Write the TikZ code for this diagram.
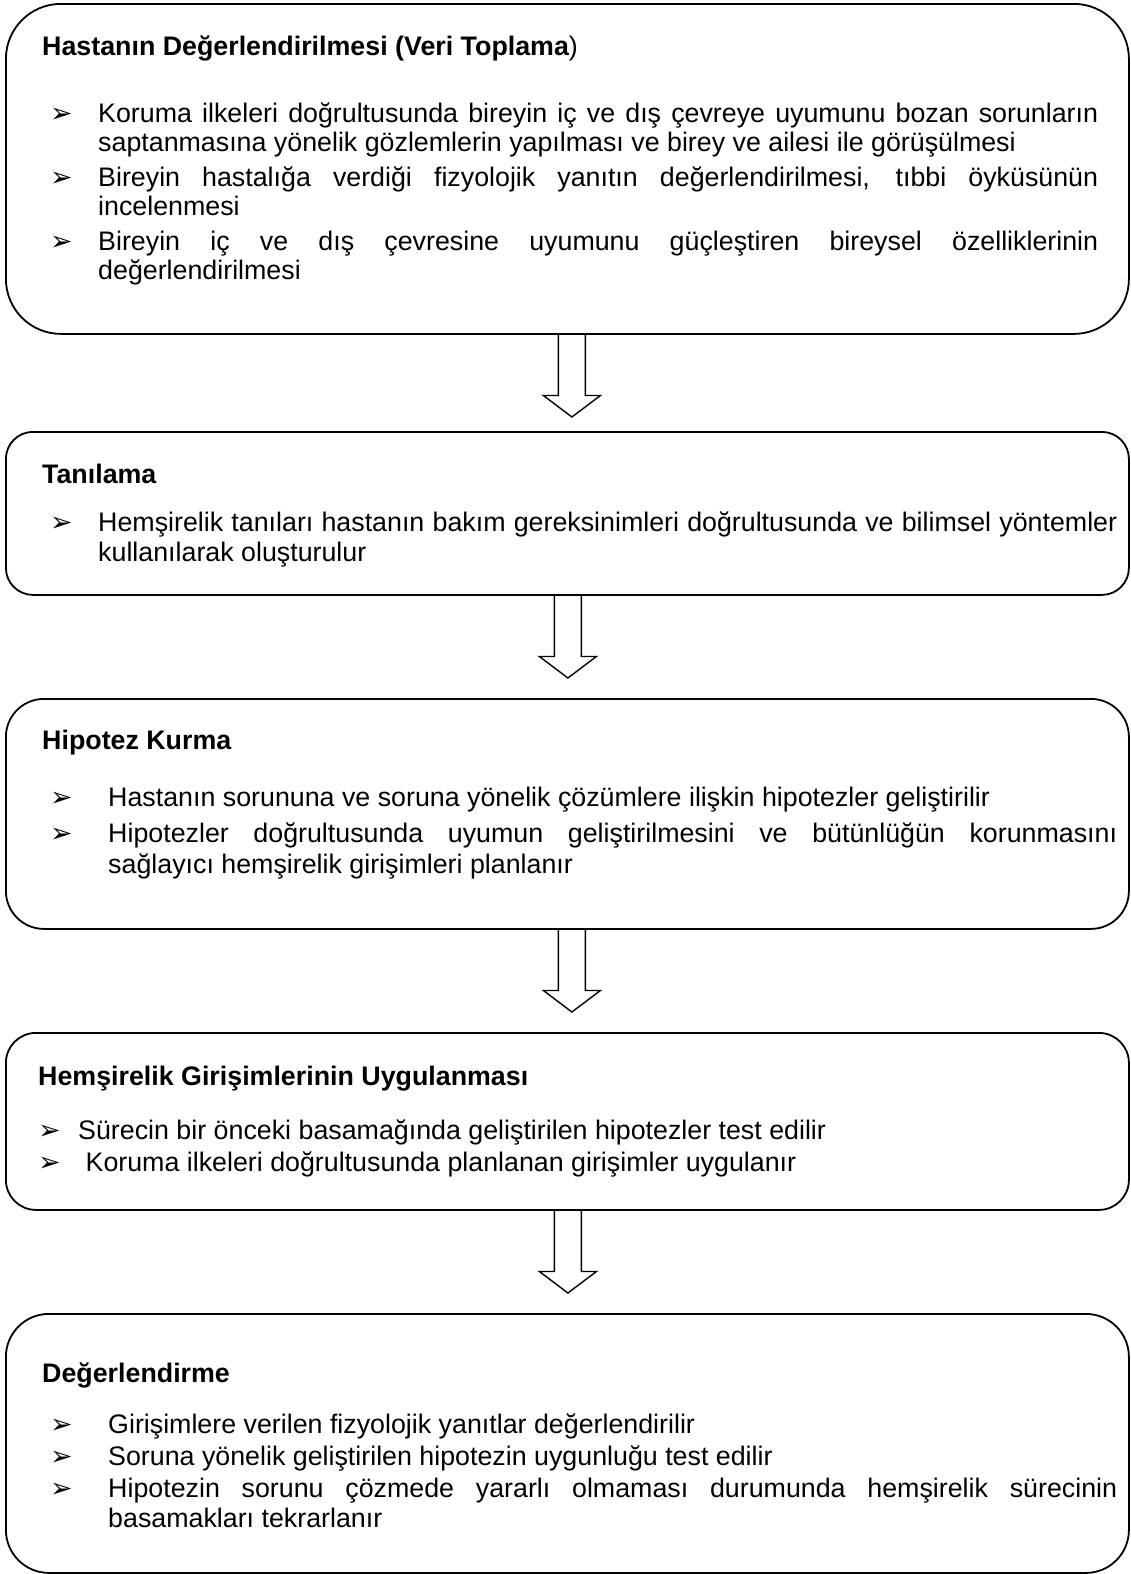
\documentclass[tikz,border=0pt]{standalone}
\usepackage{fontspec}
\setmainfont{Liberation Sans}
\newfontfamily\bulletfont{DejaVu Sans}
\usetikzlibrary{calc}
\newcommand\fs{26.8}
\newcommand\rs{\spaceskip=0pt\relax\xspaceskip=0pt\relax}
\newcommand\fline[2]{{\rs\makebox[#1pt][s]{#2}}}
\newcommand\flowarrow[4]{% from, to, dx, gap
  \draw[blockarr] let \p1=(#1.south), \p2=(#2.north) in
   (\x1+#3pt-13.5pt,\y1) -- (\x1+#3pt-13.5pt,\y2+#4pt+21.5pt)
   -- (\x1+#3pt-28.5pt,\y2+#4pt+21.5pt) -- (\x1+#3pt,\y2+#4pt)
   -- (\x1+#3pt+28.5pt,\y2+#4pt+21.5pt) -- (\x1+#3pt+13.5pt,\y2+#4pt+21.5pt)
   -- (\x1+#3pt+13.5pt,\y1);}
\begin{document}
\begin{tikzpicture}[x=1pt,y=-1pt]
\tikzset{
 box/.style={draw=black, line width=1.8pt, minimum width=1123pt, anchor=north west, inner sep=0pt},
 ttl/.style={anchor=base west, inner sep=0pt, font=\fontsize{\fs}{30}\selectfont\bfseries},
 itm/.style={anchor=base west, inner sep=0pt, align=left, font=\fontsize{\fs}{30}\selectfont},
 bulletmark/.style={anchor=base west, inner sep=0pt, font=\fontsize{27}{27}\selectfont\bulletfont},
 blockarr/.style={draw=black, line width=1.4pt, line join=miter},
}
\useasboundingbox (0,0) rectangle (1131,1574);

% Box 1
\node[box, minimum height=330pt, rounded corners=55pt] (b1) at (5,3) {};
\node[ttl] (t1) at (42,55) {Hastanın Değerlendirilmesi (Veri Toplama{\mdseries )}};
\node[bulletmark] (m11) at (50,122) {➢};
\node[itm, text width=1000pt] (i11) at (98,122) {\rs\fline{1000}{Koruma ilkeleri doğrultusunda bireyin iç ve dış çevreye uyumunu bozan sorunların}\\[-1pt]saptanmasına yönelik gözlemlerin yapılması ve birey ve ailesi ile görüşülmesi};
\node[bulletmark] (m12) at (50,186) {➢};
\node[itm, text width=1000pt] (i12) at (98,186) {\rs\fline{1000}{Bireyin hastalığa verdiği fizyolojik yanıtın değerlendirilmesi, tıbbi öyküsünün}\\[-1pt]incelenmesi};
\node[bulletmark] (m13) at (50,250) {➢};
\node[itm, text width=1000pt] (i13) at (98,250) {\rs\fline{1000}{Bireyin iç ve dış çevresine uyumunu güçleştiren bireysel özelliklerinin}\\[-1pt]değerlendirilmesi};

% Box 2
\node[box, minimum height=163pt, rounded corners=27pt] (b2) at (5,431) {};
\node[ttl] (t2) at (42,483) {Tanılama};
\node[bulletmark] (m21) at (50,531) {➢};
\node[itm, text width=1019pt] (i21) at (98,531) {\rs\fline{1019}{Hemşirelik tanıları hastanın bakım gereksinimleri doğrultusunda ve bilimsel yöntemler}\\kullanılarak oluşturulur};

% Box 3
\node[box, minimum height=230pt, rounded corners=38pt] (b3) at (5,698) {};
\node[ttl] (t3) at (42,749) {Hipotez Kurma};
\node[bulletmark] (m31) at (50,806) {➢};
\node[itm] (i31) at (108,806) {\rs Hastanın sorununa ve soruna yönelik çözümlere ilişkin hipotezler geliştirilir};
\node[bulletmark] (m32) at (50,842) {➢};
\node[itm, text width=1009pt] (i32) at (108,842) {\rs\fline{1009}{Hipotezler doğrultusunda uyumun geliştirilmesini ve bütünlüğün korunmasını}\\[1pt]sağlayıcı hemşirelik girişimleri planlanır};

% Box 4
\node[box, minimum height=177pt, rounded corners=30pt] (b4) at (5,1032) {};
\node[ttl] (t4) at (38,1085) {Hemşirelik Girişimlerinin Uygulanması};
\node[bulletmark] (m41) at (38,1139) {➢};
\node[itm] (i41) at (78,1139) {\rs Sürecin bir önceki basamağında geliştirilen hipotezler test edilir};
\node[bulletmark] (m42) at (38,1171) {➢};
\node[itm] (i42) at (78,1171) {\rs\ Koruma ilkeleri doğrultusunda planlanan girişimler uygulanır};

% Box 5
\node[box, minimum height=259pt, rounded corners=43pt] (b5) at (5,1313) {};
\node[ttl] (t5) at (42,1382) {Değerlendirme};
\node[bulletmark] (m51) at (50,1433) {➢};
\node[itm] (i51) at (108,1433) {\rs Girişimlere verilen fizyolojik yanıtlar değerlendirilir};
\node[bulletmark] (m52) at (50,1465) {➢};
\node[itm] (i52) at (108,1465) {\rs Soruna yönelik geliştirilen hipotezin uygunluğu test edilir};
\node[bulletmark] (m53) at (50,1497) {➢};
\node[itm, text width=1009pt] (i53) at (108,1497) {\rs\fline{1009}{Hipotezin sorunu çözmede yararlı olmaması durumunda hemşirelik sürecinin}\\basamakları tekrarlanır};

% Arrows
\flowarrow{b1}{b2}{4.5}{14}
\flowarrow{b2}{b3}{0.5}{20}
\flowarrow{b3}{b4}{4.5}{20}
\flowarrow{b4}{b5}{0.5}{20}
\end{tikzpicture}
\end{document}
